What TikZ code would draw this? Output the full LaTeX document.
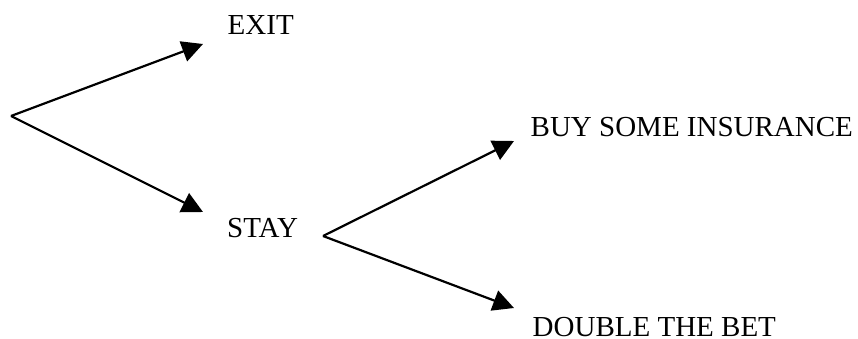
\documentclass[tikz,border=0pt]{standalone}
\usepackage{fontspec}
\setmainfont{Liberation Serif}
\usetikzlibrary{arrows.meta}
\begin{document}
\begin{tikzpicture}[x=1pt,y=-1pt,
  branch/.style={line width=2.2pt,-{Triangle[length=21pt,width=21pt]}},
  label/.style={anchor=base west,inner sep=0pt,font=\fontsize{29}{34}\selectfont}]
\useasboundingbox (0,0) rectangle (858,339);
\coordinate (root) at (11,116);
\coordinate (exittip) at (203,44);
\coordinate (staytip) at (203,212);
\coordinate (root2) at (323,236);
\coordinate (instip) at (514,141);
\coordinate (dbltip) at (514,308);
\node[label] (exit) at (227.5,35) {EXIT};
\node[label] (stay) at (227,237) {STAY};
\node[label] (ins) at (530.5,137) {BUY SOME INSURANCE};
\node[label] (dbl) at (532.5,336) {DOUBLE THE BET};
\draw[branch] (root) -- (exittip);
\draw[branch] (root) -- (staytip);
\draw[branch] (root2) -- (instip);
\draw[branch] (root2) -- (dbltip);
\end{tikzpicture}
\end{document}
